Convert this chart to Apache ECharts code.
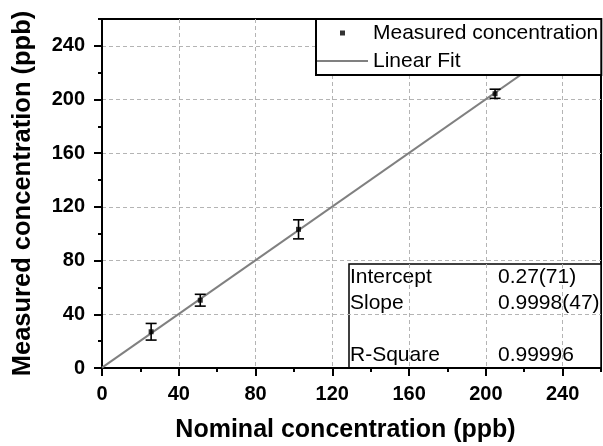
<!DOCTYPE html>
<html>
<head>
<meta charset="utf-8">
<script src="https://cdn.jsdelivr.net/npm/echarts@6/dist/echarts.min.js"></script>
<style>
  html, body { margin: 0; padding: 0; background: #fff; }
  #chart { width: 603px; height: 446px; }
</style>
</head>
<body>
<div id="chart"></div>
<script>
// Calibration data: nominal vs measured concentration (ppb) with standard deviations
const nominal = [25.6, 51.2, 102.4, 204.8];
const measured = [27.0, 50.5, 103.3, 204.3];
const errors = [6.2, 4.4, 7.1, 3.4];

// Linear fit parameters
const fitIntercept = 0.27;
const fitSlope = 0.9998;
const fitRange = [0, 260];

// Axis ticks
const axisMin = 0;
const axisMax = 260;
const majorTicks = [0, 40, 80, 120, 160, 200, 240];
const minorTicks = [20, 60, 100, 140, 180, 220, 260];

// Fit statistics table
const statNames = ['Intercept', 'Slope', '', 'R-Square'];
const statValues = ['0.27(71)', '0.9998(47)', '', '0.99996'];

const FONT = "'Liberation Sans', Arial, sans-serif";

const chart = echarts.init(document.getElementById('chart'), null, { renderer: 'canvas' });

const errorData = nominal.map((x, i) => [x, measured[i], errors[i]]);
const pointData = nominal.map((x, i) => [x, measured[i]]);
const fitData = fitRange.map(x => [x, fitIntercept + fitSlope * x]);

function majorAxis(extra) {
  return Object.assign({
    type: 'value',
    min: axisMin,
    max: axisMax,
    interval: 40,
    axisLine: { show: true, onZero: false, lineStyle: { color: '#000', width: 2 } },
    axisTick: { show: true, inside: false, length: 8, customValues: majorTicks, lineStyle: { color: '#000', width: 2 } },
    axisLabel: {
      customValues: majorTicks,
      color: '#000', fontFamily: FONT, fontSize: 20, fontWeight: 'bold'
    },
    splitLine: { show: true, lineStyle: { color: '#b4b4b4', width: 1, type: [4, 3] } }
  }, extra);
}

function minorAxis(extra) {
  return Object.assign({
    type: 'value',
    min: axisMin,
    max: axisMax,
    interval: 20,
    axisLine: { show: false, onZero: false },
    axisTick: { show: true, inside: false, length: 4, customValues: minorTicks, lineStyle: { color: '#000', width: 2 } },
    axisLabel: { show: false },
    splitLine: { show: false }
  }, extra);
}

// Statistics box drawn in the lower right corner of the plot
const tableLeft = 349, tableTop = 264, tableRight = 601, tableBottom = 368;
const tableChildren = [{
  type: 'rect',
  shape: { x: tableLeft, y: tableTop, width: tableRight - tableLeft, height: tableBottom - tableTop },
  style: { fill: '#fff', stroke: '#000', lineWidth: 1.5 }
}];
statNames.forEach((name, i) => {
  const cy = tableTop + 13.5 + i * 26;
  tableChildren.push({
    type: 'text', x: tableLeft + 1, y: cy,
    style: { text: name, fill: '#000', font: '21px ' + FONT, textVerticalAlign: 'middle', textAlign: 'left' }
  });
  tableChildren.push({
    type: 'text', x: 498, y: cy,
    style: { text: statValues[i], fill: '#000', font: '21px ' + FONT, textVerticalAlign: 'middle', textAlign: 'left' }
  });
});

const option = {
  animation: false,
  backgroundColor: '#fff',
  grid: {
    left: 102, right: 2, top: 19, bottom: 78,
    containLabel: false,
    outerBoundsMode: 'none',
    show: true, borderColor: '#000', borderWidth: 2, backgroundColor: 'transparent'
  },
  xAxis: [
    majorAxis({
      position: 'bottom',
      name: 'Nominal concentration (ppb)',
      nameLocation: 'middle',
      nameGap: 50,
      nameTextStyle: { color: '#000', fontFamily: FONT, fontSize: 25, fontWeight: 'bold', padding: [0, 12, 0, 0] },
      axisLabel: {
        customValues: majorTicks, margin: 16,
        color: '#000', fontFamily: FONT, fontSize: 20, fontWeight: 'bold'
      }
    }),
    minorAxis({ position: 'bottom' })
  ],
  yAxis: [
    majorAxis({
      position: 'left',
      name: 'Measured concentration (ppb)',
      nameLocation: 'middle',
      nameGap: 66,
      nameTextStyle: { color: '#000', fontFamily: FONT, fontSize: 25.5, fontWeight: 'bold' },
      axisLabel: {
        customValues: majorTicks, margin: 17,
        color: '#000', fontFamily: FONT, fontSize: 20, fontWeight: 'bold'
      }
    }),
    minorAxis({ position: 'left' })
  ],
  legend: {
    orient: 'vertical',
    left: 316,
    top: 19,
    padding: [2, 3, 2, 1],
    itemGap: 4,
    itemWidth: 51,
    itemHeight: 5,
    symbolKeepAspect: true,
    backgroundColor: '#fff',
    borderColor: '#000',
    borderWidth: 2,
    borderRadius: 0,
    selectedMode: false,
    textStyle: { color: '#000', fontFamily: FONT, fontSize: 21, lineHeight: 24 },
    data: [
      { name: 'Measured concentration', icon: 'path://M0,0h10v10h-10z', itemStyle: { color: '#000' } },
      { name: 'Linear Fit', icon: 'path://M0,0h51v2h-51z', itemStyle: { color: '#808080' } }
    ]
  },
  graphic: [{ type: 'group', z: 100, children: tableChildren }],
  series: [
    {
      name: 'Linear Fit',
      type: 'line',
      xAxisIndex: 0, yAxisIndex: 0,
      data: fitData,
      symbol: 'none',
      showSymbol: false,
      clip: true,
      lineStyle: { color: '#808080', width: 2 },
      itemStyle: { color: '#808080' },
      z: 2
    },
    {
      name: 'Error',
      type: 'custom',
      xAxisIndex: 0, yAxisIndex: 0,
      data: errorData,
      z: 3,
      renderItem: function (params, api) {
        const x = api.value(0), y = api.value(1), e = api.value(2);
        const top = api.coord([x, y + e]);
        const bot = api.coord([x, y - e]);
        const hw = 5.5;
        const st = { stroke: '#000', lineWidth: 1.6 };
        return {
          type: 'group',
          children: [
            { type: 'line', shape: { x1: top[0], y1: top[1], x2: bot[0], y2: bot[1] }, style: st },
            { type: 'line', shape: { x1: top[0] - hw, y1: top[1], x2: top[0] + hw, y2: top[1] }, style: st },
            { type: 'line', shape: { x1: bot[0] - hw, y1: bot[1], x2: bot[0] + hw, y2: bot[1] }, style: st }
          ]
        };
      }
    },
    {
      name: 'Measured concentration',
      type: 'scatter',
      xAxisIndex: 0, yAxisIndex: 0,
      data: pointData,
      symbol: 'rect',
      symbolSize: 5,
      itemStyle: { color: '#000' },
      z: 4
    }
  ]
};

chart.setOption(option);
</script>
</body>
</html>
